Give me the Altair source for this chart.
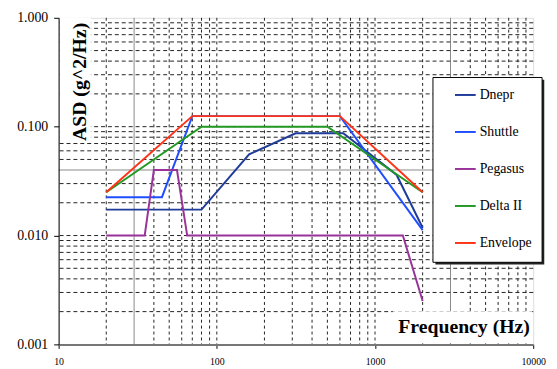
import altair as alt
import pandas as pd

# ---- data ----
series = ["Dnepr", "Shuttle", "Pegasus", "Delta II", "Envelope"]
colors = ["#1F3C99", "#1F4EFF", "#993399", "#229922", "#FF3318"]

dnepr_f = [20, 80, 160, 315, 630, 1370, 2000]
dnepr_v = [0.0173, 0.0173, 0.0556, 0.087, 0.087, 0.036, 0.0118]
shuttle_f = [20, 45, 70, 600, 2000]
shuttle_v = [0.0225, 0.0225, 0.125, 0.125, 0.0112]
pegasus_f = [20, 35, 40, 56, 65, 1500, 2000]
pegasus_v = [0.01, 0.01, 0.04, 0.04, 0.01, 0.01, 0.0025]
delta_f = [20, 80, 500, 2000]
delta_v = [0.025, 0.1, 0.1, 0.025]
env_f = [20, 70, 600, 2000]
env_v = [0.025, 0.125, 0.125, 0.025]

x_ticks = [10, 100, 1000, 10000]
y_ticks = [0.001, 0.01, 0.1, 1]

vgrid_dash = [20, 40, 50, 60, 70, 80, 90, 100, 200, 300, 400, 500, 600, 700, 800, 900,
              1000, 2000, 4000, 5000, 6000, 7000, 8000, 9000]
vgrid_solid = [30, 3000]
hgrid_dash = [0.002, 0.003, 0.004, 0.005, 0.006, 0.007, 0.008, 0.009, 0.01,
              0.02, 0.03, 0.05, 0.06, 0.07, 0.08, 0.09, 0.1,
              0.2, 0.3, 0.4, 0.5, 0.6, 0.7, 0.8, 0.9]
hgrid_solid = [0.04]

rows = []
for name, fs, vs in zip(series,
                        [dnepr_f, shuttle_f, pegasus_f, delta_f, env_f],
                        [dnepr_v, shuttle_v, pegasus_v, delta_v, env_v]):
    for i, (f, v) in enumerate(zip(fs, vs)):
        rows.append({"series": name, "f": f, "v": v, "order": i})
df = pd.DataFrame(rows)

FONT = "Liberation Serif"
xs = alt.Scale(type="log", domain=[10, 10000])
ys = alt.Scale(type="log", domain=[0.001, 1])
one = pd.DataFrame({"k": [0]})

xaxis = alt.Axis(
    values=x_ticks, format="d", title=None, grid=False,
    labelFont=FONT, labelFontSize=10, labelColor="black", labelFlush=False,
    tickSize=4, tickColor="black", labelPadding=8,
    domainColor="#777", domainWidth=2, zindex=1)
yaxis = alt.Axis(
    values=y_ticks, format=".3f", title=None, grid=False,
    labelFont=FONT, labelFontSize=14, labelColor="black", labelFlush=False,
    tickSize=5, tickColor="black", labelPadding=6,
    domainColor="black", domainWidth=1, zindex=1)

vdash = alt.Chart(pd.DataFrame({"f": vgrid_dash})).mark_rule(
    color="#222", strokeWidth=1, strokeDash=[3, 3]
).encode(x=alt.X("f:Q", scale=xs, axis=xaxis))
vsolid = alt.Chart(pd.DataFrame({"f": vgrid_solid})).mark_rule(
    color="#888", strokeWidth=1
).encode(x=alt.X("f:Q", scale=xs, axis=xaxis))
hdash = alt.Chart(pd.DataFrame({"v": hgrid_dash})).mark_rule(
    color="#222", strokeWidth=1, strokeDash=[4, 3]
).encode(y=alt.Y("v:Q", scale=ys, axis=yaxis))
hsolid = alt.Chart(pd.DataFrame({"v": hgrid_solid})).mark_rule(
    color="#888", strokeWidth=1
).encode(y=alt.Y("v:Q", scale=ys, axis=yaxis))

ytitle_bg = alt.Chart(one).mark_rect(fill="white").encode(
    x=alt.value(1), x2=alt.value(32.7), y=alt.value(0), y2=alt.value(124.5))
xtitle_bg = alt.Chart(one).mark_rect(fill="white").encode(
    x=alt.value(338.7), x2=alt.value(480), y=alt.value(297.5), y2=alt.value(329.5))

shadow = alt.Chart(one).mark_rect(fill="#222").encode(
    x=alt.value(381.9), x2=alt.value(492.2), y=alt.value(62.7), y2=alt.value(250))
box = alt.Chart(one).mark_rect(fill="white", stroke="black", strokeWidth=1).encode(
    x=alt.value(379.4), x2=alt.value(490), y=alt.value(60.5), y2=alt.value(247.8))

lines = alt.Chart(df).mark_line(strokeWidth=2).encode(
    x=alt.X("f:Q", scale=xs, axis=xaxis),
    y=alt.Y("v:Q", scale=ys, axis=yaxis),
    color=alt.Color("series:N", scale=alt.Scale(domain=series, range=colors),
                    legend=alt.Legend(
                        title=None, orient="none", legendX=400.7, legendY=66.7,
                        symbolType="stroke", symbolSize=441, symbolStrokeWidth=2,
                        labelFont=FONT, labelFontSize=14, labelColor="black",
                        labelOffset=3, rowPadding=18.5, padding=0)),
    order="order:Q",
)

ytitle = alt.Chart(one).mark_text(
    text="ASD (g^2/Hz)", font=FONT, fontSize=20, fontWeight="bold",
    angle=270, align="center", baseline="alphabetic", color="black"
).encode(x=alt.value(27.4), y=alt.value(65))
xtitle = alt.Chart(one).mark_text(
    text="Frequency (Hz)", font=FONT, fontSize=20, fontWeight="bold",
    align="center", baseline="alphabetic", color="black"
).encode(x=alt.value(410.9), y=alt.value(319.5))

chart = alt.layer(
    vdash, vsolid, hdash, hsolid, ytitle_bg, xtitle_bg, shadow, box, lines, ytitle, xtitle
).properties(
    width=481, height=331,
    autosize=alt.AutoSizeParams(type="none"),
    padding={"left": 51.3, "top": 7.5, "right": 16, "bottom": 22.5},
).configure_view(stroke="#999", strokeWidth=1
).configure_legend(labelFont=FONT, labelFontSize=14
).configure(background="white")

chart.save("out.html", embed_options={"renderer": "svg", "actions": False})
